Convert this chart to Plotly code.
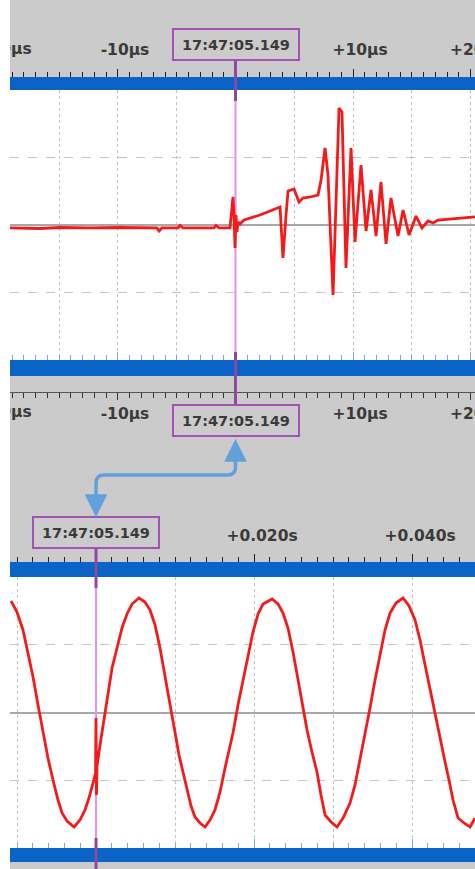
import plotly.graph_objects as go

W, H = 465, 869   # figure size; the page shows it 10px from the left edge (white strip)
OFF = 10

# ---------------- data ----------------
# top panel: time in microseconds, value in divisions
top_t = [-19.19, -16.64, -14.94, -12.38, -9.83, -7.28, -6.68, -6.51, -6.26, -4.89, -4.72, -4.47,
         -1.83, -1.66, -1.40, -0.47, -0.30, -0.21, -0.13, -0.04, 0.04, 0.13, 0.21, 0.38, 0.72,
         2.09, 3.79, 4.04, 4.30, 4.47, 4.98, 5.15, 5.40, 5.74, 6.34, 7.02, 7.28, 7.62, 7.87,
         8.30, 8.55, 8.81, 9.06, 9.40, 9.83, 10.17, 10.68, 11.11, 11.53, 11.96, 12.38, 12.81,
         13.23, 13.83, 14.26, 14.77, 15.36, 15.87, 16.38, 16.81, 17.23, 18.26, 20.38]
top_v = [-0.044, -0.052, -0.037, -0.044, -0.037, -0.044, -0.044, -0.089, -0.044, -0.044, -0.007, -0.044,
         -0.044, -0.007, -0.044, -0.044, 0.222, 0.415, 0.148, -0.341, 0.148, -0.104, 0.044, 0.015, 0.074,
         0.148, 0.267, -0.489, 0.148, 0.504, 0.533, 0.459, 0.341, 0.400, 0.415, 0.444, 0.667, 1.141, 0.741,
         -1.037, 0.370, 1.733, 1.674, -0.637, 1.141, -0.252, 0.889, -0.089, 0.519, -0.163, 0.637, -0.281,
         0.400, -0.163, 0.222, -0.148, 0.133, -0.044, 0.059, 0.030, 0.074, 0.089, 0.119]

# bottom panel: time in milliseconds, value in divisions
bot_t = [-10.76, -10.00, -9.24, -8.61, -7.97, -7.34, -6.71, -6.08, -5.44, -4.81, -4.30, -3.67, -2.78,
         -2.03, -1.39, -0.89, -0.38, -0.06, 0.00, 0.06, 0.13, 0.51, 1.01, 1.52, 2.03, 2.66, 3.29, 3.92,
         4.56, 5.44, 6.20, 6.84, 7.47, 8.10, 8.73, 9.37, 10.00, 10.51, 11.01, 11.52, 12.03, 12.53, 13.16,
         13.80, 14.43, 15.06, 15.70, 16.33, 16.84, 17.34, 17.97, 18.61, 19.24, 19.87, 20.51, 21.14, 22.28,
         23.04, 23.67, 24.30, 24.94, 25.57, 26.08, 26.71, 27.34, 27.97, 28.48, 28.99, 29.75, 30.51, 31.27,
         32.15, 32.78, 33.42, 34.05, 34.68, 35.32, 35.95, 36.58, 37.22, 37.97, 38.86, 39.62, 40.38, 41.01,
         41.65, 42.28, 42.91, 43.54, 44.18, 44.68, 45.19, 45.82, 46.58, 47.34, 47.97]
bot_v = [1.646, 1.483, 1.218, 0.893, 0.524, 0.111, -0.303, -0.672, -0.996, -1.292, -1.483, -1.601, -1.690,
         -1.587, -1.439, -1.262, -1.041, -0.893, -0.081, -1.218, -0.790, -0.480, -0.111, 0.288, 0.657, 0.952,
         1.247, 1.454, 1.601, 1.690, 1.631, 1.513, 1.292, 0.952, 0.554, 0.125, -0.303, -0.627, -0.878, -1.144,
         -1.380, -1.542, -1.631, -1.690, -1.587, -1.439, -1.173, -0.819, -0.554, -0.303, 0.111, 0.480, 0.849,
         1.188, 1.454, 1.601, 1.675, 1.601, 1.469, 1.247, 0.893, 0.480, 0.140, -0.258, -0.583, -0.878, -1.218,
         -1.513, -1.616, -1.690, -1.557, -1.336, -1.070, -0.701, -0.332, 0.066, 0.480, 0.878, 1.218, 1.469,
         1.616, 1.690, 1.572, 1.365, 1.070, 0.701, 0.332, -0.037, -0.406, -0.731, -0.996, -1.292, -1.557,
         -1.631, -1.690, -1.557]

top_tickvals = [-20, -10, 0, 10, 20]
top_ticktext = ["-20µs", "-10µs", "", "+10µs", "+20µs"]
bot_tickvals = [0, 20, 40]
bot_ticktext = ["", "+0.020s", "+0.040s"]
cursor_label = "17:47:05.149"

# ---------------- style ----------------
GRAY = "#cbcbcb"
BLUE = "#0a64c8"
BLUE_TICK = "#7aa8de"
RED = "#f41a1a"
GRID = "#c4c4c4"
ZERO = "#a8a8a8"
CUR_LIGHT = "#e690f2"
CUR_DARK = "#8c4a9c"
BOX_BORDER = "#a450b4"
ARROW = "#62a0dc"
TXT = "#3a3a3a"
FONT = "DejaVu Sans"

TOP_RANGE = [-19.19, 20.38]
BOT_RANGE = [-10.886, 47.97]


def py(p):
    return 1 - p / H


def to_paper(v, rng):
    return (v - rng[0]) / (rng[1] - rng[0])


fig = go.Figure()
fig.add_trace(go.Scatter(x=top_t, y=top_v, mode="lines", line=dict(color=RED, width=2.8),
                         xaxis="x", yaxis="y", hoverinfo="skip", showlegend=False))
fig.add_trace(go.Scatter(x=bot_t, y=bot_v, mode="lines", line=dict(color=RED, width=2.8),
                         xaxis="x2", yaxis="y2", hoverinfo="skip", showlegend=False))
# carriers for the tick-only axes
for xa, ya in [("x3", "y"), ("x4", "y"), ("x5", "y"), ("x6", "y2"), ("x7", "y2")]:
    fig.add_trace(go.Scatter(x=[None], y=[None], xaxis=xa, yaxis=ya, mode="lines",
                             hoverinfo="skip", showlegend=False))

lab_font = dict(family=FONT, size=15.5, color=TXT, weight="bold")

grid_ax = dict(showgrid=True, gridcolor=GRID, griddash="dot", gridwidth=1, zeroline=False,
               showticklabels=False, ticks="", showline=False, fixedrange=True)
y_ax = dict(range=[-2, 2], dtick=1, tick0=0, showgrid=True, gridcolor=GRID, griddash="dash",
            zeroline=True, zerolinecolor=ZERO, zerolinewidth=1.5, showticklabels=False,
            ticks="", showline=False, fixedrange=True)


def tick_ax(overlay, rng, pos, side, ticks, tickvals, ticktext, minor_dtick, color,
            ticklen, minorlen, standoff=0, shift=0, show_labels=True, line=False):
    return dict(overlaying=overlay, anchor="free", position=pos, side=side, range=rng,
                autorange=False, tickmode="array", tickvals=tickvals, ticktext=ticktext,
                ticks=ticks, ticklen=ticklen, tickwidth=1.4, tickcolor=color,
                minor=dict(tick0=0, dtick=minor_dtick, ticks=ticks, ticklen=minorlen,
                           tickwidth=1.2, tickcolor=color, showgrid=False),
                showgrid=False, zeroline=False, showline=line, linecolor="#555555", linewidth=1,
                showticklabels=show_labels, tickfont=lab_font, ticklabelstandoff=standoff,
                ticklabelshift=shift, ticklabeloverflow="allow", automargin=False,
                fixedrange=True)


fig.update_layout(
    width=W, height=H, margin=dict(l=0, r=0, t=0, b=0, autoexpand=False),
    paper_bgcolor=GRAY, plot_bgcolor="white", showlegend=False,
    xaxis=dict(domain=[0, 1], range=TOP_RANGE, tick0=0, dtick=5, anchor="y", **grid_ax),
    yaxis=dict(domain=[py(360), py(90)], anchor="x", **y_ax),
    xaxis2=dict(domain=[0, 1], range=BOT_RANGE, tick0=0, dtick=10, anchor="y2", **grid_ax),
    yaxis2=dict(domain=[py(848), py(577)], anchor="x2", **y_ax),
    xaxis3=tick_ax("x", TOP_RANGE, py(77), "top", "outside", top_tickvals, top_ticktext, 1,
                   "#222222", 8, 5, standoff=8, shift=7),
    xaxis4=tick_ax("x", TOP_RANGE, py(360), "bottom", "inside", top_tickvals, top_ticktext, 1,
                   BLUE_TICK, 8, 5, show_labels=False),
    xaxis5=tick_ax("x", TOP_RANGE, py(392), "bottom", "outside", top_tickvals, top_ticktext, 1,
                   "#333333", 7, 5, standoff=0, shift=7, line=True),
    xaxis6=tick_ax("x2", BOT_RANGE, py(562), "top", "outside", bot_tickvals, bot_ticktext, 2,
                   "#222222", 8, 5, standoff=7, shift=8),
    xaxis7=tick_ax("x2", BOT_RANGE, py(848), "bottom", "inside", bot_tickvals, bot_ticktext, 2,
                   BLUE_TICK, 9, 5, show_labels=False),
)

cx_top = to_paper(0, TOP_RANGE)
cx_bot = to_paper(0, BOT_RANGE)

shapes = []
# blue bars
for a, b in [(77, 90), (360, 376), (562, 577), (848, 862)]:
    shapes.append(dict(type="rect", xref="paper", yref="paper", x0=0, x1=1, y0=py(b), y1=py(a),
                       fillcolor=BLUE, line=dict(width=0), layer="above"))
# cursor lines inside plots
shapes.append(dict(type="line", xref="x", yref="y", x0=0, x1=0, y0=-2, y1=2,
                   line=dict(color=CUR_LIGHT, width=2), layer="between"))
shapes.append(dict(type="line", xref="x2", yref="y2", x0=0, x1=0, y0=-2, y1=2,
                   line=dict(color=CUR_LIGHT, width=2), layer="between"))
# dark cursor segments over the bars
for xr, a, b in [("x", 60, 101), ("x", 352, 406), ("x2", 547, 588), ("x2", 838, 869)]:
    shapes.append(dict(type="line", xref=xr, yref="paper", x0=0, x1=0, y0=py(b), y1=py(a),
                       line=dict(color=CUR_DARK, width=3), layer="above"))
# connector arrow path
xt = cx_top
xb = cx_bot
r = 8 / W
path = (f"M {xt},{py(458)} L {xt},{py(467)} Q {xt},{py(475)} {xt - r},{py(475)} "
        f"L {xb + r},{py(475)} Q {xb},{py(475)} {xb},{py(483)} L {xb},{py(500)}")
shapes.append(dict(type="path", xref="paper", yref="paper", path=path,
                   line=dict(color=ARROW, width=3.5), layer="above"))
fig.update_layout(shapes=shapes)

box_font = dict(family=FONT, size=14.5, color=TXT, weight="bold")
ann = []
# the -20µs labels sit just past the left end of the axis range (cut by the figure edge)
for yc in [49, 412]:
    ann.append(dict(x=to_paper(top_tickvals[0], TOP_RANGE), xref="paper", y=py(yc), yref="paper",
                    text=top_ticktext[0], showarrow=False, font=lab_font, xanchor="center",
                    yanchor="middle", xshift=7))
for xr, yc in [("x", 45), ("x", 420), ("x2", 532)]:
    ann.append(dict(x=0, xref=xr, y=py(yc), yref="paper", text=cursor_label, showarrow=False,
                    font=box_font, bgcolor=GRAY, bordercolor=BOX_BORDER, borderwidth=2,
                    borderpad=3, width=118, height=23, xanchor="center", yanchor="middle"))
ann.append(dict(x=0, xref="x", y=py(439), yref="paper", text="", showarrow=True, ax=0, ay=24,
                arrowhead=2, arrowsize=1.3, arrowwidth=3.5, arrowcolor=ARROW))
ann.append(dict(x=0, xref="x2", y=py(517), yref="paper", text="", showarrow=True, ax=0, ay=-24,
                arrowhead=2, arrowsize=1.3, arrowwidth=3.5, arrowcolor=ARROW))
fig.update_layout(annotations=ann)

fig.write_html(
    "out.html", config={"displayModeBar": False},
    post_script=("document.body.style.margin='0';document.body.style.overflow='hidden';"
                 "document.body.style.background='white';"
                 "var d=document.getElementById('{plot_id}');d.style.marginLeft='10px';"
                 "if(d.parentElement){d.parentElement.style.margin='0';}"))
